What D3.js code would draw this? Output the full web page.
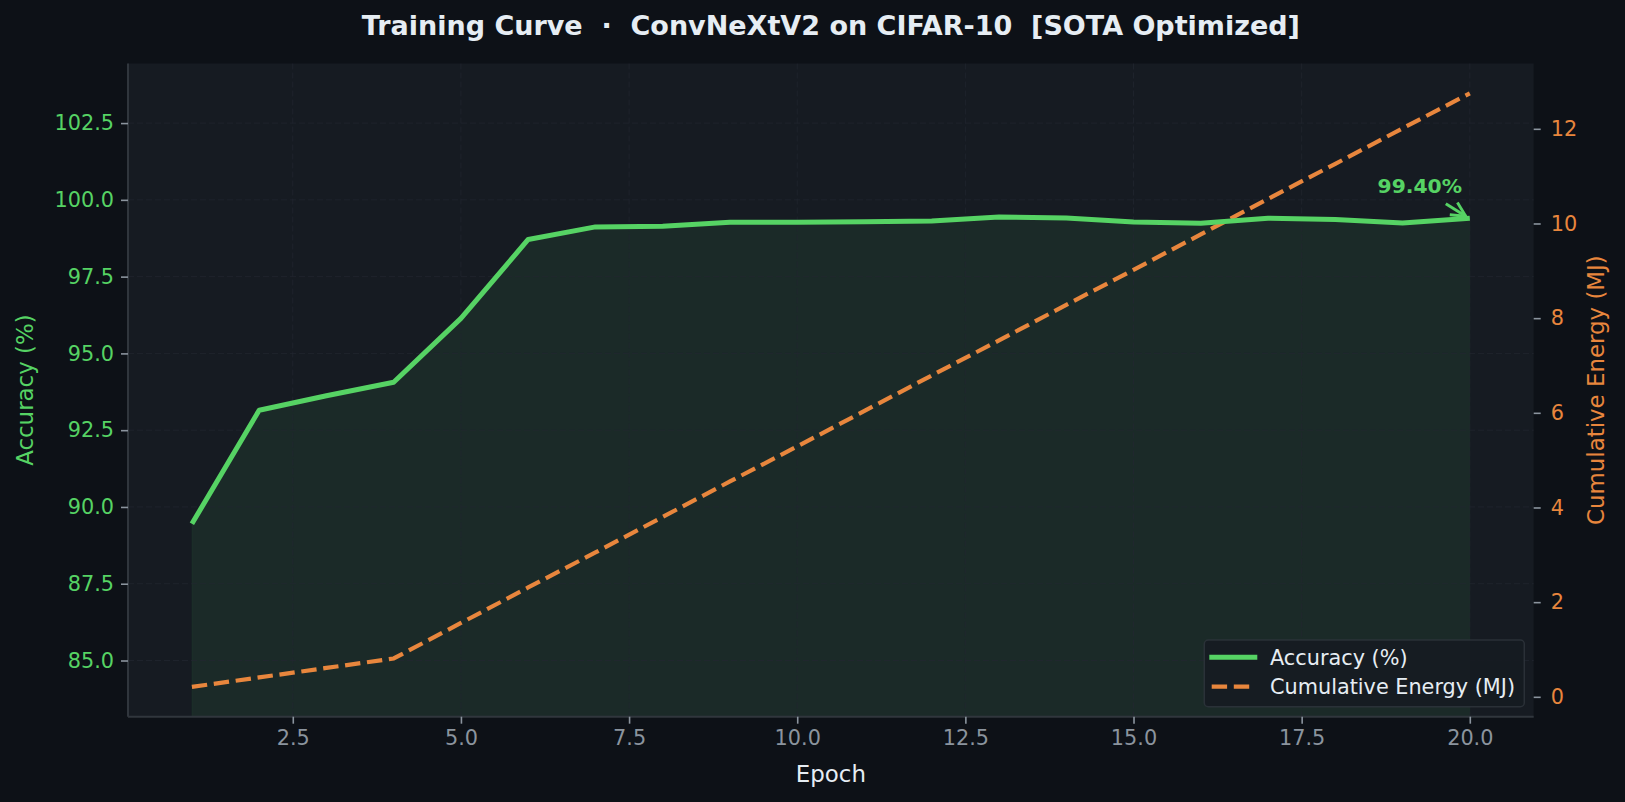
<!DOCTYPE html>
<html>
<head>
<meta charset="utf-8">
<script src="https://cdnjs.cloudflare.com/ajax/libs/d3/7.8.5/d3.min.js"></script>
<style>
    html, body { margin: 0; padding: 0; background: #0d1117; }
    svg { display: block; font-family: "DejaVu Sans", sans-serif; }
</style>
</head>
<body>
<div id="chart"></div>
<script>
var epochs = [1, 2, 3, 4, 5, 6, 7, 8, 9, 10, 11, 12, 13, 14, 15, 16, 17, 18, 19, 20];
var accuracy = [89.45, 93.15, 93.62, 94.06, 96.14, 98.71, 99.12, 99.14, 99.27, 99.27,
    99.29, 99.31, 99.44, 99.41, 99.28, 99.24, 99.40, 99.36, 99.25, 99.40];
var energy = [0.21, 0.41, 0.61, 0.81, 1.56, 2.31, 3.05, 3.80, 4.55, 5.29,
    6.04, 6.79, 7.53, 8.28, 9.02, 9.77, 10.52, 11.26, 12.01, 12.75];
var xTicks = [2.5, 5.0, 7.5, 10.0, 12.5, 15.0, 17.5, 20.0];
var accTicks = [85.0, 87.5, 90.0, 92.5, 95.0, 97.5, 100.0, 102.5];
var energyTicks = [0, 2, 4, 6, 8, 10, 12];
var seriesNames = ["Accuracy (%)", "Cumulative Energy (MJ)"];
var bestLabel = "99.40%";

var WIDTH = 1625,
    HEIGHT = 802;

var COLORS = {
    background: '#0d1117',
    panel: '#161b22',
    grid: '#222730',
    spine: '#30363d',
    tick: '#8b949e',
    text: '#e6edf3',
    green: '#56d364',
    orange: '#e8863d'
};

var margin = {
    top: 63.5,
    right: 91.3,
    bottom: 85.3,
    left: 128
};

var plotWidth = WIDTH - margin.left - margin.right,
    plotHeight = HEIGHT - margin.top - margin.bottom;

var svg = d3.select('#chart').append('svg')
    .attr('width', WIDTH)
    .attr('height', HEIGHT);

svg.append('rect')
    .attr('width', WIDTH)
    .attr('height', HEIGHT)
    .attr('fill', COLORS.background);

var g = svg.append('g')
    .attr('transform', 'translate(' + margin.left + ',' + margin.top + ')');

var x = d3.scaleLinear().domain([0.05, 20.95]).range([0, plotWidth]);
var yAcc = d3.scaleLinear().domain([83.17, 104.44]).range([plotHeight, 0]);
var yEnergy = d3.scaleLinear().domain([-0.42, 13.38]).range([plotHeight, 0]);

g.append('rect')
    .attr('width', plotWidth)
    .attr('height', plotHeight)
    .attr('fill', COLORS.panel);

// fill under accuracy
var area = d3.area()
    .x(function (d, i) { return x(epochs[i]); })
    .y0(plotHeight)
    .y1(function (d) { return yAcc(d); });

g.append('path')
    .datum(accuracy)
    .attr('d', area)
    .attr('fill', COLORS.green)
    .attr('fill-opacity', 0.085)
    .attr('stroke', COLORS.green)
    .attr('stroke-opacity', 0.05)
    .attr('stroke-width', 1);

// grid
g.append('g')
    .selectAll('line')
    .data(xTicks)
    .enter().append('line')
    .attr('x1', function (d) { return x(d); })
    .attr('x2', function (d) { return x(d); })
    .attr('y1', 0)
    .attr('y2', plotHeight)
    .attr('stroke', COLORS.grid)
    .attr('stroke-opacity', 0.7)
    .attr('stroke-width', 1)
    .attr('stroke-dasharray', '6,3');

g.append('g')
    .selectAll('line')
    .data(accTicks)
    .enter().append('line')
    .attr('x1', 0)
    .attr('x2', plotWidth)
    .attr('y1', function (d) { return yAcc(d); })
    .attr('y2', function (d) { return yAcc(d); })
    .attr('stroke', COLORS.grid)
    .attr('stroke-opacity', 0.7)
    .attr('stroke-width', 1)
    .attr('stroke-dasharray', '6,3');

// energy line
var energyLine = d3.line()
    .x(function (d, i) { return x(epochs[i]); })
    .y(function (d) { return yEnergy(d); });

g.append('path')
    .datum(energy)
    .attr('d', energyLine)
    .attr('fill', 'none')
    .attr('stroke', COLORS.orange)
    .attr('stroke-width', 4.2)
    .attr('stroke-dasharray', '15.4,6.7');

// accuracy line
var accLine = d3.line()
    .x(function (d, i) { return x(epochs[i]); })
    .y(function (d) { return yAcc(d); });

g.append('path')
    .datum(accuracy)
    .attr('d', accLine)
    .attr('fill', 'none')
    .attr('stroke', COLORS.green)
    .attr('stroke-width', 5)
    .attr('stroke-linejoin', 'round');

// axes
var xAxis = g.append('g')
    .attr('transform', 'translate(0,' + plotHeight + ')')
    .call(d3.axisBottom(x).tickValues(xTicks).tickFormat(d3.format('.1f')).tickSize(7).tickPadding(7));

var leftAxis = g.append('g')
    .call(d3.axisLeft(yAcc).tickValues(accTicks).tickFormat(d3.format('.1f')).tickSize(7).tickPadding(7));

var rightAxis = g.append('g')
    .attr('transform', 'translate(' + plotWidth + ',0)')
    .call(d3.axisRight(yEnergy).tickValues(energyTicks).tickFormat(d3.format('d')).tickSize(7).tickPadding(10));

[xAxis, leftAxis, rightAxis].forEach(function (ax) {
    ax.selectAll('text').style('font-size', '20.8px').style('font-family', '"DejaVu Sans", sans-serif');
    ax.selectAll('.tick line').attr('stroke', COLORS.tick).attr('stroke-width', 1.6);
});
xAxis.selectAll('text').attr('fill', COLORS.tick);
leftAxis.selectAll('text').attr('fill', COLORS.green);
rightAxis.selectAll('text').attr('fill', COLORS.orange);
xAxis.select('.domain').attr('stroke', COLORS.spine).attr('stroke-width', 2).attr('d', 'M0,0H' + plotWidth);
leftAxis.select('.domain').attr('stroke', COLORS.spine).attr('stroke-width', 2).attr('d', 'M0,0V' + plotHeight);
rightAxis.select('.domain').remove();

// annotation
var last = epochs.length - 1;
var tx = x(epochs[last]),
    ty = yAcc(accuracy[last]);

var defs = svg.append('defs');
defs.append('marker')
    .attr('id', 'arrow')
    .attr('viewBox', '0 0 10 10')
    .attr('refX', 9)
    .attr('refY', 5)
    .attr('markerWidth', 6)
    .attr('markerHeight', 6)
    .attr('orient', 'auto')
    .append('path')
    .attr('d', 'M1,1L9,5L1,9')
    .attr('fill', 'none')
    .attr('stroke', COLORS.green)
    .attr('stroke-width', 1.6);

g.append('line')
    .attr('x1', tx - 24)
    .attr('y1', ty - 14.5)
    .attr('x2', tx - 4)
    .attr('y2', ty - 2)
    .attr('stroke', COLORS.green)
    .attr('stroke-width', 3)
    .attr('marker-end', 'url(#arrow)');

g.append('text')
    .attr('x', tx - 50)
    .attr('y', ty - 25.5)
    .attr('text-anchor', 'middle')
    .attr('fill', COLORS.green)
    .style('font-size', '20.3px')
    .style('font-weight', 'bold')
    .text(bestLabel);

// legend
var legend = g.append('g')
    .attr('transform', 'translate(' + (1204.3 - margin.left) + ',' + (640 - margin.top) + ')');

legend.append('rect')
    .attr('width', 320)
    .attr('height', 66.7)
    .attr('rx', 4)
    .attr('fill', COLORS.panel)
    .attr('fill-opacity', 0.92)
    .attr('stroke', COLORS.spine)
    .attr('stroke-opacity', 0.8)
    .attr('stroke-width', 1.5);

var legendItems = legend.selectAll('.item')
    .data(seriesNames)
    .enter().append('g')
    .attr('class', 'item')
    .attr('transform', function (d, i) { return 'translate(0,' + (17.3 + i * 29.4) + ')'; });

legendItems.append('line')
    .attr('x1', function (d, i) { return i === 0 ? 5 : 7.4; })
    .attr('x2', function (d, i) { return i === 0 ? 53 : 45; })
    .attr('stroke', function (d, i) { return i === 0 ? COLORS.green : COLORS.orange; })
    .attr('stroke-width', function (d, i) { return i === 0 ? 5 : 4.2; })
    .attr('stroke-dasharray', function (d, i) { return i === 0 ? null : '15.4,6.7'; });

legendItems.append('text')
    .attr('x', 65.7)
    .attr('dy', '0.36em')
    .attr('fill', COLORS.text)
    .style('font-size', '20.8px')
    .text(function (d) { return d; });

// labels
svg.append('text')
    .attr('x', margin.left + plotWidth / 2)
    .attr('y', 34.5)
    .attr('text-anchor', 'middle')
    .attr('fill', COLORS.text)
    .style('font-size', '27px')
    .style('font-weight', 'bold')
    .style('white-space', 'pre')
    .text('Training Curve  \u00b7  ConvNeXtV2 on CIFAR-10  [SOTA Optimized]');

svg.append('text')
    .attr('x', margin.left + plotWidth / 2)
    .attr('y', 781.5)
    .attr('text-anchor', 'middle')
    .attr('fill', COLORS.text)
    .style('font-size', '22.9px')
    .text('Epoch');

svg.append('text')
    .attr('transform', 'translate(33,' + (margin.top + plotHeight / 2) + ') rotate(-90)')
    .attr('text-anchor', 'middle')
    .attr('fill', COLORS.green)
    .style('font-size', '22.9px')
    .text(seriesNames[0]);

svg.append('text')
    .attr('transform', 'translate(1604,' + (margin.top + plotHeight / 2) + ') rotate(-90)')
    .attr('text-anchor', 'middle')
    .attr('fill', COLORS.orange)
    .style('font-size', '22.9px')
    .text(seriesNames[1]);
</script>
</body>
</html>
